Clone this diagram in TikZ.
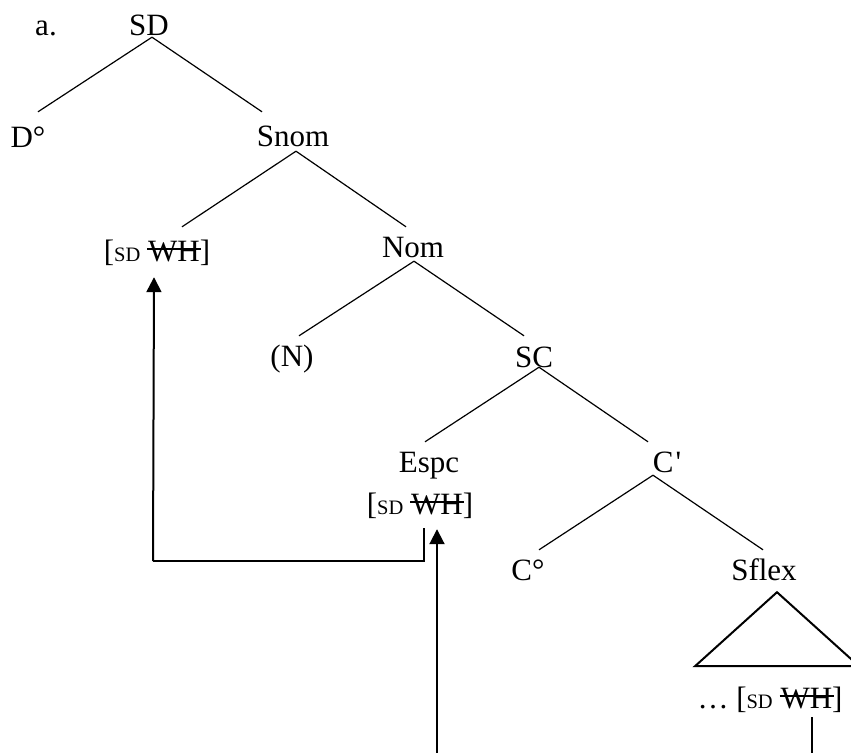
\documentclass[tikz,border=0pt]{standalone}
\usepackage{fontspec}
\setmainfont{Liberation Serif}
\usetikzlibrary{arrows.meta}
\newcommand\smsd{{\fontsize{20.5}{22}\selectfont SD}}
\newcommand\strwh{\makebox[0pt][l]{\hspace{-1pt}\rule[11.5pt]{54pt}{1.4pt}}WH}
\newcommand\sdwh{[\smsd\ \strwh]}
\begin{document}
\begin{tikzpicture}[x=1pt,y=-1pt,
  lbl/.style={inner sep=0pt, text height=31pt, text depth=3pt, anchor=base, font=\fontsize{31}{36}\selectfont},
  branch/.style={line width=1.2pt},
  movearrow/.style={line width=2pt, -{Triangle[width=15pt,length=15pt]}},
  trace/.style={line width=1.3pt},
  tri/.style={line width=2pt, line join=miter}]
\useasboundingbox (0,0) rectangle (851,752);
\clip (0,0) rectangle (851,752);
% labels
\node[lbl] (a) at (46,36) {a.};
\node[lbl] (SD) at (149,36) {SD};
\node[lbl] (D) at (28,147) {D°};
\node[lbl] (Snom) at (293,146) {Snom};
\node[lbl] (WHa) at (157,261) {\sdwh};
\node[lbl] (Nom) at (413,257) {Nom};
\node[lbl] (N) at (292,366) {(N)};
\node[lbl] (SC) at (534,367) {SC};
\node[lbl] (Espc) at (429,472) {Espc};
\node[lbl] (WHb) at (420,514) {\sdwh};
\node[lbl] (Cp) at (667,472) {C\kern2pt\textquotesingle};
\node[lbl] (Co) at (528,580) {C°};
\node[lbl] (Sflex) at (764,580) {Sflex};
\node[lbl] (WHc) at (770,708) {…\ \sdwh};
% branches
\draw[branch] ([shift={(3,-2)}]SD.south) -- ([shift={(10,-4)}]D.north);
\draw[branch] ([shift={(3,-2)}]SD.south) -- ([shift={(-31,-3)}]Snom.north);
\draw[branch] ([shift={(3,2)}]Snom.south) -- ([shift={(25,-3)}]WHa.north);
\draw[branch] ([shift={(3,2)}]Snom.south) -- ([shift={(-7,1)}]Nom.north);
\draw[branch] ([shift={(1,1)}]Nom.south) -- ([shift={(7,1)}]N.north);
\draw[branch] ([shift={(1,1)}]Nom.south) -- ([shift={(-10,0)}]SC.north);
\draw[branch] ([shift={(5,-3)}]SC.south) -- ([shift={(-4,1)}]Espc.north);
\draw[branch] ([shift={(5,-3)}]SC.south) -- ([shift={(-19,1)}]Cp.north);
\draw[branch] ([shift={(-14,0)}]Cp.south) -- ([shift={(11,1)}]Co.north);
\draw[branch] ([shift={(-14,0)}]Cp.south) -- ([shift={(-1,1)}]Sflex.north);
% triangle
\draw[tri] ([shift={(13,9)}]Sflex.south) -- ++(-82,74) -- ++(164,0) -- cycle;
% movement
\coordinate (corner) at (153,561);
\coordinate (bottomA) at (437,756);
\coordinate (bottomB) at (812,756);
\draw[trace] ([shift={(4,11)}]WHb.south) |- (corner);
\draw[movearrow] (corner) -- ([shift={(-3,13)}]WHa.south);
\draw[movearrow] (bottomA) -- ([shift={(17,12)}]WHb.south);
\draw[branch] ([shift={(42,6)}]WHc.south) -- (bottomB);
\end{tikzpicture}
\end{document}
